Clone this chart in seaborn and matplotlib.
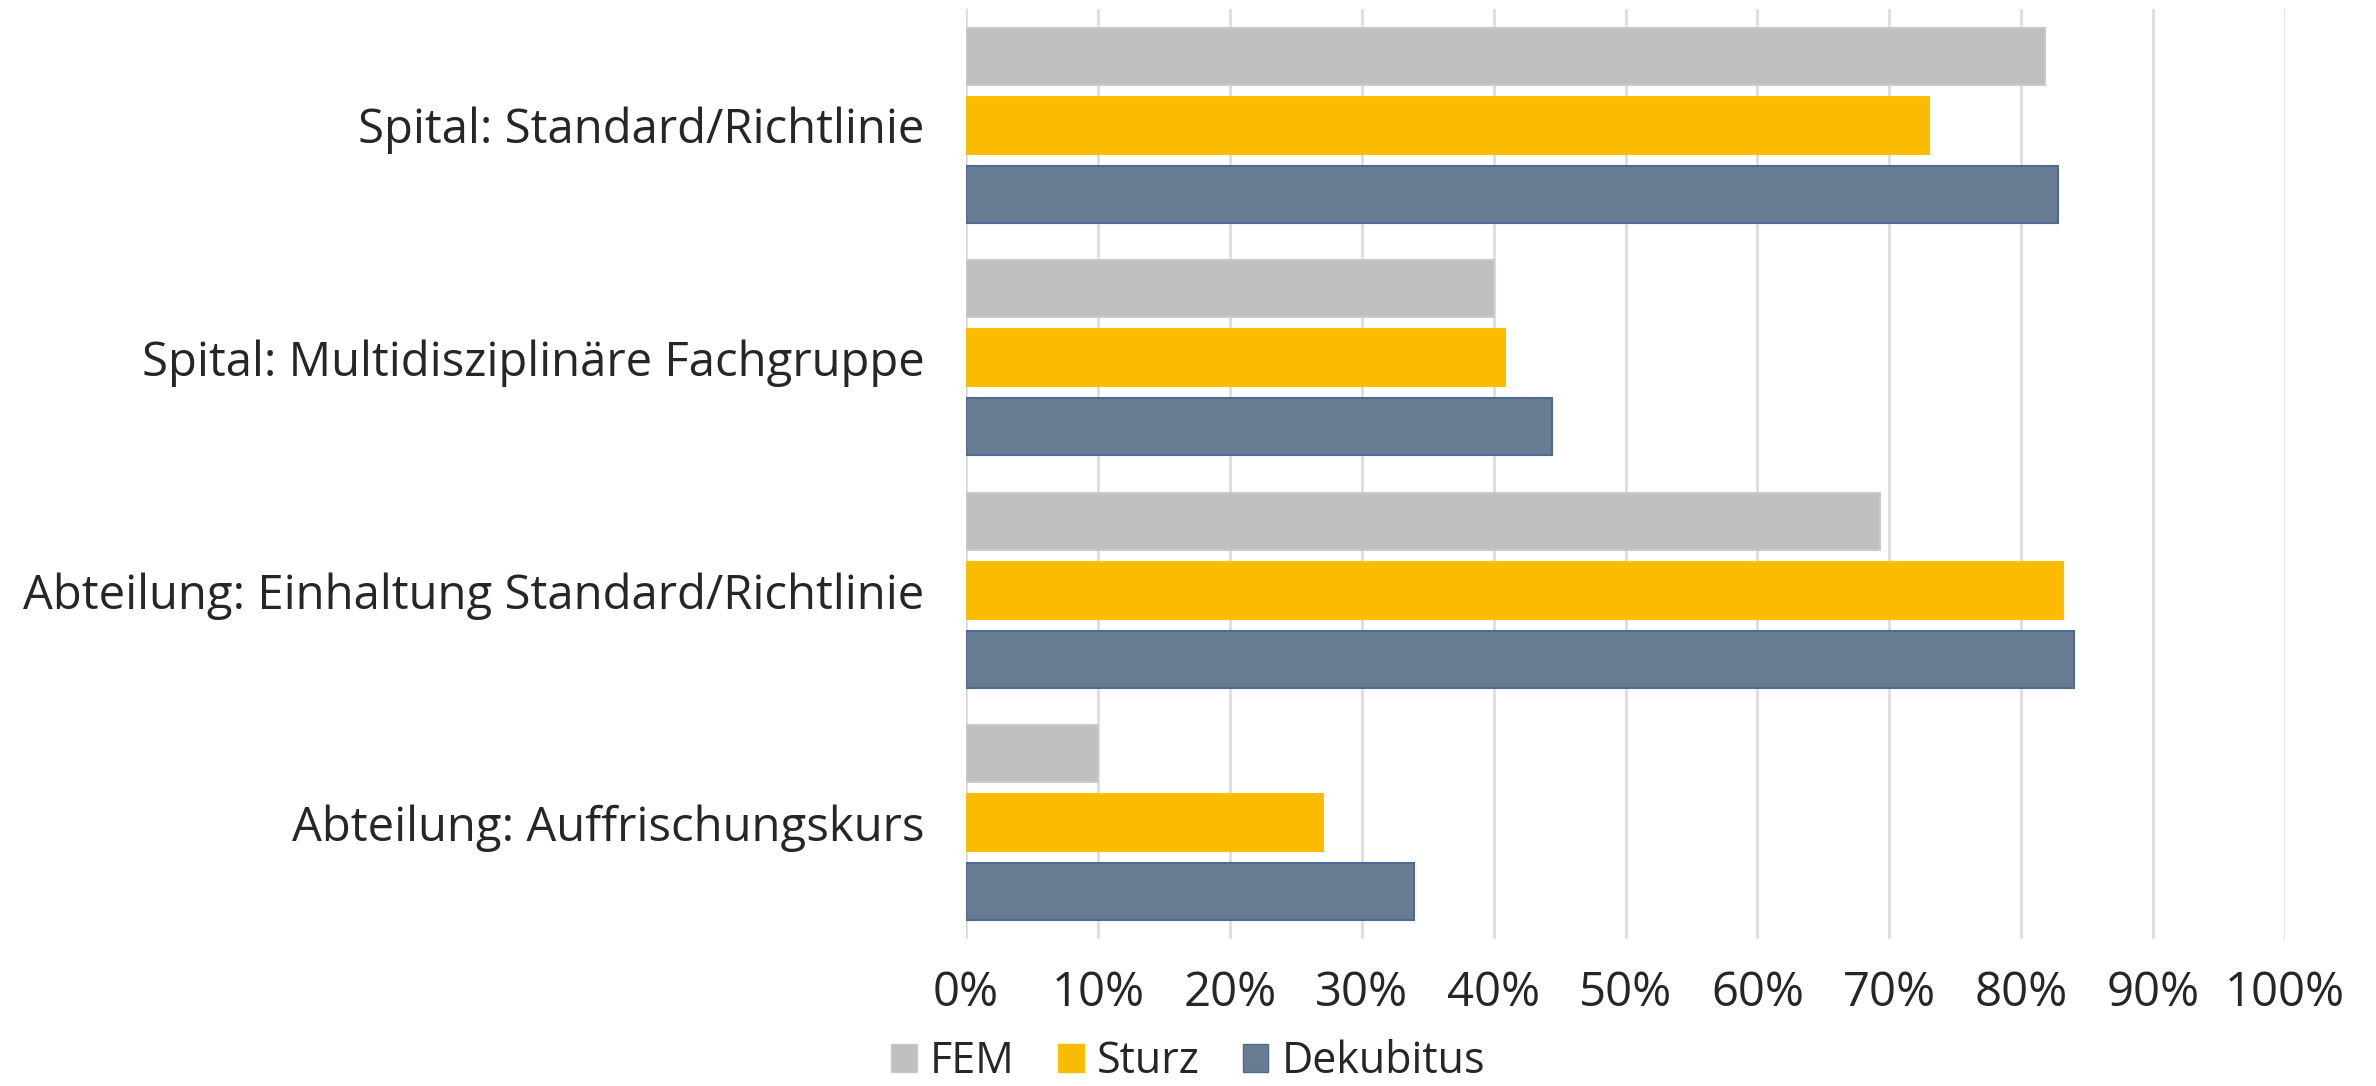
import matplotlib
matplotlib.use('Agg')
import matplotlib.pyplot as plt
import pandas as pd
import seaborn as sns
from matplotlib.patches import Patch
from matplotlib.ticker import PercentFormatter

# ---------------------------
# Data (percent)
# ---------------------------
categories = [
    "Spital: Standard/Richtlinie",
    "Spital: Multidisziplinäre Fachgruppe",
    "Abteilung: Einhaltung Standard/Richtlinie",
    "Abteilung: Auffrischungskurs",
]
series = ["FEM", "Sturz", "Dekubitus"]
fem = [81.8, 40.0, 69.3, 10.0]
sturz = [73.0, 40.9, 83.2, 27.1]
dekubitus = [82.8, 44.4, 84.0, 34.0]
x_ticks = [0, 10, 20, 30, 40, 50, 60, 70, 80, 90, 100]

colors = {"FEM": "#BFBFBF", "Sturz": "#FABB00", "Dekubitus": "#687D91"}
edges = {"FEM": "#C5CCC5", "Sturz": "#FAC000", "Dekubitus": "#4F6A92"}

rows = []
for name, vals in zip(series, [fem, sturz, dekubitus]):
    for cat, v in zip(categories, vals):
        rows.append({"Kategorie": cat, "Serie": name, "Wert": v})
df = pd.DataFrame(rows)

# ---------------------------
# Plot
# ---------------------------
sns.set_style("white")
plt.rcParams['font.family'] = ['Open Sans', 'DejaVu Sans']

fig = plt.figure(figsize=(23.76, 10.86), dpi=100)
ax = fig.add_axes([966 / 2376, 1 - 939 / 1086, (2285 - 966) / 2376, (939 - 9) / 1086])

sns.barplot(
    data=df, y="Kategorie", x="Wert", hue="Serie",
    order=categories, hue_order=series, palette=colors, saturation=1,
    orient="h", width=0.89, gap=0.18, legend=False, ax=ax,
)

for cont, name in zip(ax.containers, series):
    for bar in cont:
        bar.set_edgecolor(edges[name])
        bar.set_linewidth(1.5)

ax.set_xlim(0, 100)
ax.set_ylim(3.5, -0.5)
ax.set_xticks(x_ticks)
ax.xaxis.set_major_formatter(PercentFormatter(decimals=0))
ax.grid(axis="x", color="#D9D9D9", linewidth=1.8)
ax.set_axisbelow(True)
for s in ax.spines.values():
    s.set_visible(False)
ax.set_xlabel("")
ax.set_ylabel("")
ax.tick_params(axis="y", length=0, pad=30, labelsize=34)
ax.tick_params(axis="x", length=0, pad=22, labelsize=34)

handles = [Patch(facecolor=colors[s], edgecolor=edges[s], label=s) for s in series]
fig.legend(
    handles=handles, loc="center", bbox_to_anchor=(1188 / 2376, 1 - 1062 / 1086),
    ncol=3, frameon=False, fontsize=31, handlelength=0.6, handleheight=0.6,
    handletextpad=0.3, columnspacing=1.0, borderpad=0.1,
)

fig.savefig("out.png", dpi=100)
plt.close(fig)
